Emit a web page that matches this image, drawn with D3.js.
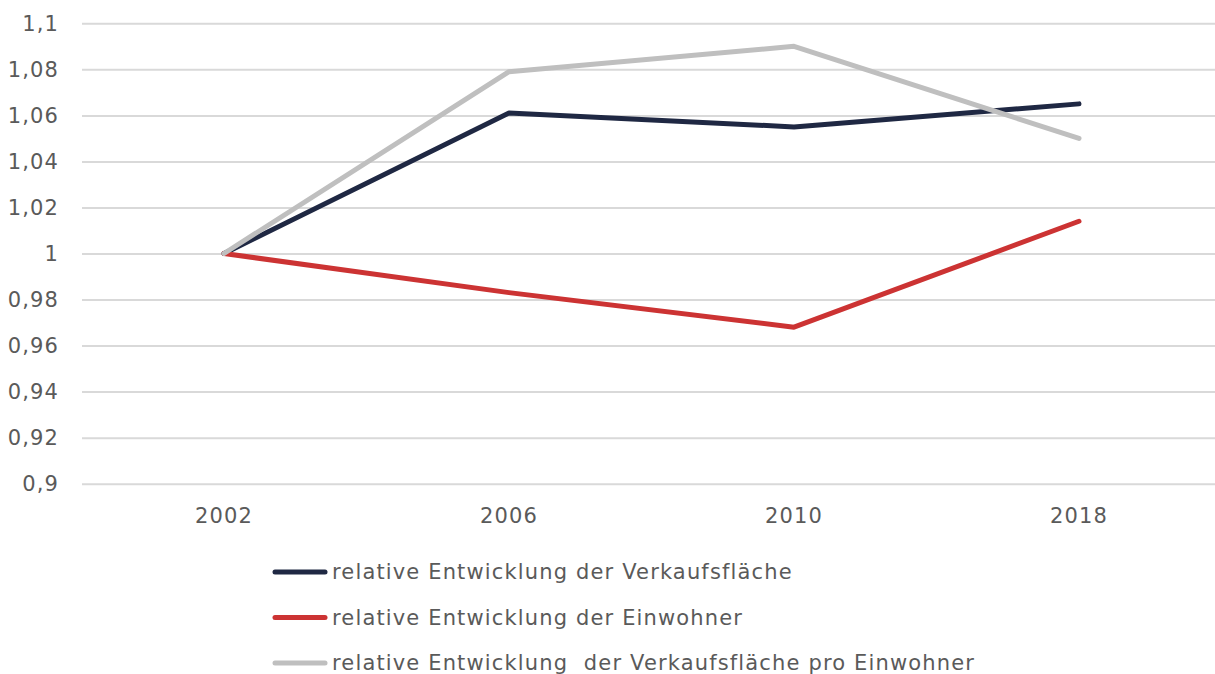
<!DOCTYPE html>
<html><head><meta charset="utf-8">
<script src="https://cdn.jsdelivr.net/npm/d3@7"></script>
<style>html,body{margin:0;padding:0;background:#fff;overflow:hidden}</style>
</head><body><svg id="c" width="1215" height="674"></svg>
<script>
const categories = ["2002","2006","2010","2018"];
const seriesNames = ["relative Entwicklung der Verkaufsfläche","relative Entwicklung der Einwohner","relative Entwicklung  der Verkaufsfläche pro Einwohner"];
const verkaufsflaeche = [1, 1.061, 1.055, 1.065];
const einwohner = [1, 0.983, 0.968, 1.014];
const proEinwohner = [1, 1.079, 1.090, 1.050];
const yTicks = [0.9,0.92,0.94,0.96,0.98,1,1.02,1.04,1.06,1.08,1.1];
const colors = ["#1f2843","#cc3333","#bfbfbf"];
const series = [verkaufsflaeche, einwohner, proEinwohner];

const svg = d3.select("#c");
const font = "'DejaVu Sans', sans-serif";
const textColor = "#5a5a5a";
const x = d3.scaleBand().domain(categories).range([81.5, 1221.5]);
const y = d3.scaleLinear().domain([0.9, 1.1]).range([483.7, 23.3]);

const fmt = v => d3.format("")(+v.toFixed(2)).replace(".", ",");

function styleText(sel){
  sel.attr("fill",textColor).style("font-family",font).style("font-size","21px").style("letter-spacing","1.15px");
}

const yAxis = svg.append("g").attr("transform","translate(82,0)")
  .call(d3.axisLeft(y).tickValues(yTicks).tickSize(-1140).tickFormat(fmt).tickPadding(23));
yAxis.select(".domain").remove();
yAxis.selectAll("line").attr("stroke","#d9d9d9").attr("stroke-width",2);
yAxis.selectAll("text").call(styleText);

const xAxis = svg.append("g").attr("transform","translate(0,484)")
  .call(d3.axisBottom(x).tickSize(0).tickPadding(24));
xAxis.select(".domain").remove();
xAxis.selectAll("text").call(styleText);

const line = d3.line().x((d,i)=>x(categories[i])+x.bandwidth()/2).y(d=>y(d));
series.forEach((s,k)=>{
  svg.append("path").datum(s).attr("d",line).attr("fill","none")
    .attr("stroke",colors[k]).attr("stroke-width",5).attr("stroke-linecap","round").attr("stroke-linejoin","round");
});

const legend = svg.append("g");
seriesNames.forEach((n,k)=>{
  const yy = 572 + k*45.5;
  legend.append("line").attr("x1",275).attr("x2",325).attr("y1",yy).attr("y2",yy)
    .attr("stroke",colors[k]).attr("stroke-width",5).attr("stroke-linecap","round");
  legend.append("text").attr("x",332).attr("y",yy).attr("dy","0.35em")
    .call(styleText).style("white-space","pre").text(n);
});
</script></body></html>
